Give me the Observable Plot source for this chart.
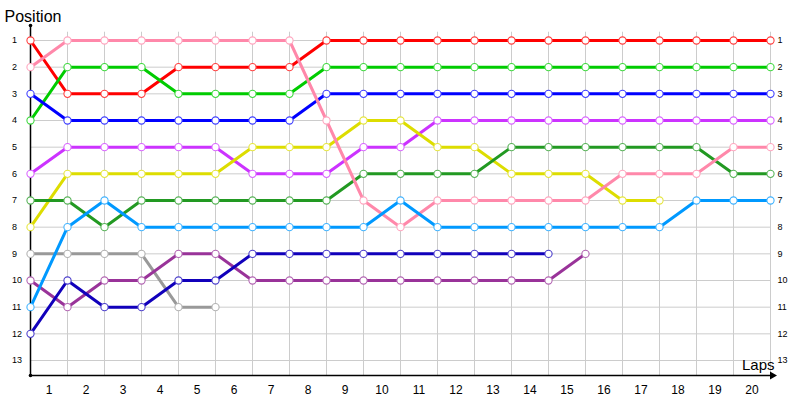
<!DOCTYPE html>
<html><head><meta charset="utf-8">
<script src="https://cdn.jsdelivr.net/npm/d3@7"></script>
<script src="https://cdn.jsdelivr.net/npm/@observablehq/plot@0.6"></script>
<style>body{margin:0;background:#fff;} #chart svg{display:block;}</style>
</head><body><div id="chart"></div>
<script>
const laps = [0,1,2,3,4,5,6,7,8,9,10,11,12,13,14,15,16,17,18,19,20];
const lapLabels = [1,2,3,4,5,6,7,8,9,10,11,12,13,14,15,16,17,18,19,20];
const positions = [1,2,3,4,5,6,7,8,9,10,11,12,13];

const drivers = ["Driver A","Driver B","Driver C","Driver D","Driver E","Driver F","Driver G","Driver H","Driver I","Driver J","Driver K"];
const colors  = ["#ff0000","#00cc00","#0000ff","#cc33ff","#dddd00","#229922","#999999","#993399","#1100bb","#ff88aa","#0099ff"];

const driverA = [1,3,3,3,2,2,2,2,1,1,1,1,1,1,1,1,1,1,1,1,1];
const driverB = [4,2,2,2,3,3,3,3,2,2,2,2,2,2,2,2,2,2,2,2,2];
const driverC = [3,4,4,4,4,4,4,4,3,3,3,3,3,3,3,3,3,3,3,3,3];
const driverD = [6,5,5,5,5,5,6,6,6,5,5,4,4,4,4,4,4,4,4,4,4];
const driverE = [8,6,6,6,6,6,5,5,5,4,4,5,5,6,6,6,7,7,null,null,null];
const driverF = [7,7,8,7,7,7,7,7,7,6,6,6,6,5,5,5,5,5,5,6,6];
const driverG = [9,9,9,9,11,11,null,null,null,null,null,null,null,null,null,null,null,null,null,null,null];
const driverH = [10,11,10,10,9,9,10,10,10,10,10,10,10,10,10,9,null,null,null,null,null];
const driverI = [12,10,11,11,10,10,9,9,9,9,9,9,9,9,9,null,null,null,null,null,null];
const driverJ = [2,1,1,1,1,1,1,1,4,7,8,7,7,7,7,7,6,6,6,5,5];
const driverK = [11,8,7,8,8,8,8,8,8,8,7,8,8,8,8,8,8,8,7,7,7];

const series = [driverA, driverB, driverC, driverD, driverE, driverF, driverG, driverH, driverI, driverJ, driverK];
const rows = series.flatMap((vals, i) =>
  laps.map((lap, j) => ({driver: drivers[i], lap, pos: vals[j]})).filter(d => d.pos != null));

const dotStroke = colors.map(c => d3.interpolateRgb(c, "white")(0.25));
const font = "Liberation Sans, Arial, sans-serif";
const yTop = 0.4375, yBottom = 13.5625;

const chart = Plot.plot({
  width: 800, height: 400,
  marginTop: 0, marginLeft: 0, marginRight: 0, marginBottom: 0,
  style: {fontFamily: font, background: "#fff"},
  x: {domain: [0, 20], range: [30, 770], axis: null},
  y: {domain: [yTop, yBottom], range: [25, 375], axis: null},
  color: {type: "ordinal", domain: drivers, range: colors},
  marks: [
    // grid
    Plot.ruleX(laps, {x: d => d, y1: 0.69, y2: yBottom, stroke: "#cccccc", strokeWidth: 1}),
    Plot.ruleY(positions, {y: d => d, x1: 0, x2: 20, stroke: "#cccccc", strokeWidth: 1}),
    // axes
    Plot.ruleX([0], {y1: yTop, y2: yBottom, stroke: "#000", strokeWidth: 1.5}),
    Plot.ruleY([yBottom], {x1: 0, x2: 20.05, stroke: "#000", strokeWidth: 1.5}),
    Plot.dot([[20.05, yBottom]], {x: d => d[0], y: d => d[1], symbol: "triangle", rotate: 90, r: 3, fill: "#000", stroke: "none"}),
    Plot.dot([[0, yTop], [0, yBottom]], {x: d => d[0], y: d => d[1], r: 1.8, fill: "#000", stroke: "none"}),
    // tick labels
    Plot.text(positions, {x: 0, y: d => d, text: d => String(d), dx: -18.5, textAnchor: "start", fontSize: 9, fill: "#000"}),
    Plot.text(positions, {x: 20, y: d => d, text: d => String(d), dx: 7, textAnchor: "start", fontSize: 9, fill: "#000"}),
    Plot.text(lapLabels, {x: d => d - 0.5, y: yBottom, text: d => String(d), dy: 18, lineAnchor: "bottom", fontSize: 12, fill: "#000"}),
    // series
    Plot.line(rows, {x: "lap", y: "pos", z: "driver", stroke: "driver", strokeWidth: 3, strokeLinejoin: "round"}),
    Plot.dot(rows, {x: "lap", y: "pos", r: 3.6, fill: "white", stroke: d => dotStroke[drivers.indexOf(d.driver)], strokeWidth: 1.1}),
    // titles
    Plot.text(["Position"], {frameAnchor: "top-left", text: d => d, dx: 4, dy: 21, lineAnchor: "bottom", textAnchor: "start", fontSize: 16, fill: "#000"}),
    Plot.text(["Laps"], {frameAnchor: "bottom-right", text: d => d, dx: -26, dy: -31, lineAnchor: "bottom", textAnchor: "end", fontSize: 15, fill: "#000"})
  ]
});
document.getElementById("chart").append(chart);
</script>
</body></html>
